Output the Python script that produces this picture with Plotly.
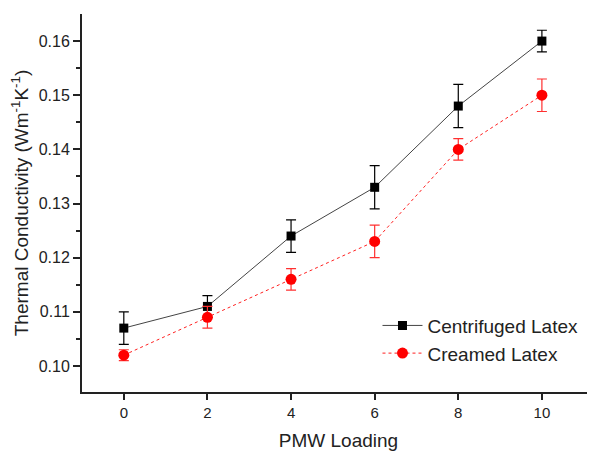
import plotly.graph_objects as go

pmw_loading = [0, 2, 4, 6, 8, 10]
centrifuged = [0.107, 0.111, 0.124, 0.133, 0.148, 0.160]
centrifuged_err = [0.003, 0.002, 0.003, 0.004, 0.004, 0.002]
creamed = [0.102, 0.109, 0.116, 0.123, 0.140, 0.150]
creamed_err = [0.001, 0.002, 0.002, 0.003, 0.002, 0.003]
x_ticks = [0, 2, 4, 6, 8, 10]
y_ticks = [0.10, 0.11, 0.12, 0.13, 0.14, 0.15, 0.16]

font_family = "Liberation Sans, Arial, sans-serif"

fig = go.Figure()
fig.add_trace(go.Scatter(
    x=pmw_loading, y=centrifuged, name="Centrifuged Latex",
    mode="lines+markers",
    line=dict(color="#444444", width=1),
    marker=dict(symbol="square", size=9, color="black"),
    error_y=dict(type="data", array=centrifuged_err, color="black", thickness=1.2, width=5),
))
fig.add_trace(go.Scatter(
    x=pmw_loading, y=creamed, name="Creamed Latex",
    mode="lines+markers",
    line=dict(color="#ff2020", width=1, dash="dot"),
    marker=dict(symbol="circle", size=11, color="#ff0000"),
    error_y=dict(type="data", array=creamed_err, color="#ff3030", thickness=1.2, width=5),
))

# page body adds an 8px offset; figure is sized so the plot lands where the reference has it
fig.update_layout(
    width=587, height=443,
    margin=dict(l=74, r=0, t=6, b=59, autoexpand=False),
    paper_bgcolor="white", plot_bgcolor="white",
    font=dict(family=font_family, color="#222222"),
    showlegend=True,
    legend=dict(x=0.576, y=0.226, xanchor="left", yanchor="top",
                font=dict(size=19, color="#222222"), bgcolor="rgba(0,0,0,0)",
                tracegroupgap=0, itemwidth=40),
)
fig.update_xaxes(
    range=[-1.0, 11.27], tickvals=x_ticks, ticktext=[str(v) for v in x_ticks],
    showline=True, linecolor="#222222", linewidth=2, ticks="outside", ticklen=6,
    tickwidth=2, tickcolor="#222222", showgrid=False, zeroline=False,
    tickfont=dict(size=15), automargin=False,
    title=dict(text="PMW Loading", font=dict(size=19), standoff=16),
)
fig.update_yaxes(
    range=[0.0952, 0.165], tickvals=y_ticks, ticktext=[f"{v:.2f}" for v in y_ticks],
    showline=True, linecolor="#222222", linewidth=2, ticks="outside", ticklen=7,
    tickwidth=2, tickcolor="#222222", showgrid=False, zeroline=False,
    tickfont=dict(size=16), automargin=False,
    minor=dict(tickvals=[0.105, 0.115, 0.125, 0.135, 0.145, 0.155], ticks="outside",
               ticklen=4, tickwidth=2, tickcolor="#222222"),
    title=dict(text="Thermal Conductivity (Wm<sup>-1</sup>K<sup>-1</sup>)", font=dict(size=19), standoff=6),
)

fig.write_html("out.html")
